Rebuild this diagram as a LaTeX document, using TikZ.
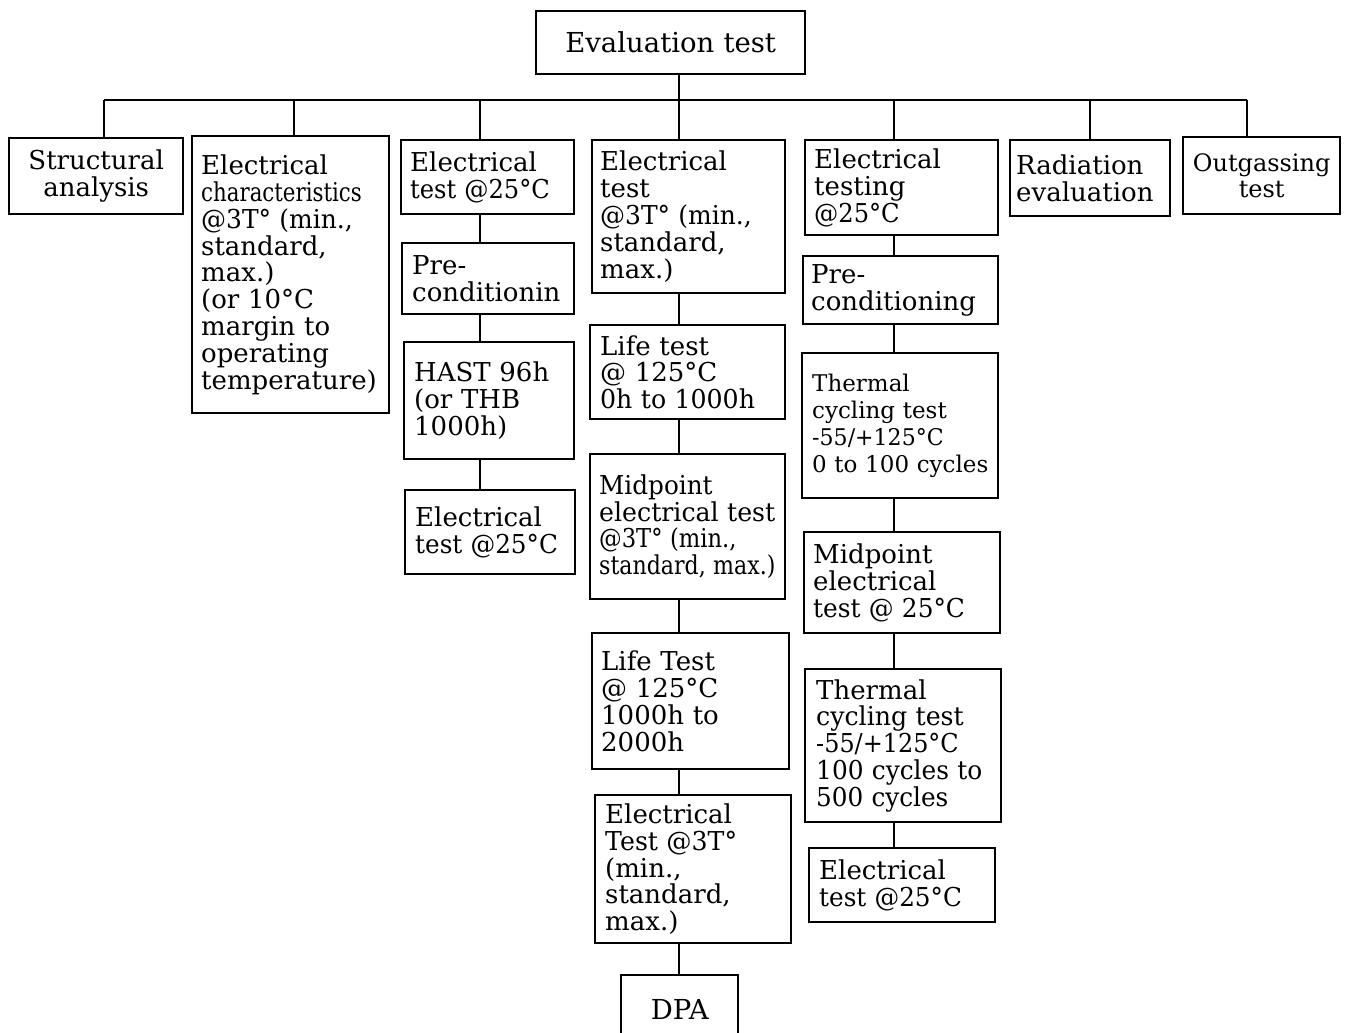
\documentclass[tikz,border=0pt]{standalone}
\usepackage{fontspec}
\setmainfont{DejaVu Serif}
\usepackage{graphicx}
\newcommand\boxfont{\fontsize{26}{26.8}\selectfont\hyphenpenalty=10000\relax}
\newcommand\smallboxfont{\fontsize{23}{26.8}\selectfont\hyphenpenalty=10000\relax}
\newcommand\labelfont{\fontsize{24}{26.8}\selectfont\hyphenpenalty=10000\relax}
\newcommand\bigboxfont{\fontsize{27.5}{28}\selectfont}
\newcommand\squeeze[2]{\scalebox{#1}[1]{#2}}
\begin{document}
\begin{tikzpicture}[x=1pt,y=-1pt,
  box/.style={draw, line width=2.4pt, rectangle, anchor=north west,
    inner ysep=0pt, align=left, font=\boxfont},
  link/.style={line width=2.4pt}]
\useasboundingbox (0,0) rectangle (1347,1033);

% top node
\node[box, align=center, font=\bigboxfont, minimum width=269pt, minimum height=63pt,
  text width=251pt, inner xsep=9pt] (eval) at (535,10) {Evaluation test};

% first level
\node[box, align=center, minimum width=174pt, minimum height=76pt,
  text width=156pt, inner xsep=9pt] (sa) at (8,137) {Structural\\analysis};
\node[box, minimum width=197pt, minimum height=277pt,
  text width=179pt, inner xsep=9pt] (ec) at (191,135)
  {Electrical\\\squeeze{0.82}{characteristics}\\\squeeze{0.96}{@3T°~(min.,}\\standard,\\max.)\\(or~10°C\\margin~to\\operating\\temperature)};

% column: electrical test @25C / HAST
\node[box, minimum width=173pt, minimum height=74pt,
  text width=155pt, inner xsep=9pt] (c3a) at (400,139)
  {Electrical\\\squeeze{0.93}{test~@25°C}};
\node[box, minimum width=172pt, minimum height=71pt,
  text width=152pt, inner xsep=10pt] (c3b) at (401,242) {Pre-\\conditionin};
\node[box, minimum width=170pt, minimum height=117pt,
  text width=150pt, inner xsep=10pt] (c3c) at (403,341) {HAST~96h\\(or~THB\\1000h)};
\node[box, minimum width=170pt, minimum height=84pt,
  text width=150pt, inner xsep=10pt] (c3d) at (404,489)
  {Electrical\\\squeeze{0.95}{test~@25°C}};

% column: life test
\node[box, minimum width=193pt, minimum height=153pt,
  text width=177pt, inner xsep=8pt] (c4a) at (591,139)
  {Electrical\\test\\\squeeze{0.96}{@3T°~(min.,}\\standard,\\max.)};
\node[box, minimum width=195pt, minimum height=94pt,
  text width=175pt, inner xsep=10pt] (c4b) at (589,324)
  {Life~test\\@~125°C\\\squeeze{0.97}{0h~to~1000h}};
\node[box, minimum width=195pt, minimum height=145pt,
  text width=177pt, inner xsep=9pt] (c4c) at (589,453)
  {\squeeze{0.95}{Midpoint}\\\squeeze{0.97}{electrical~test}\\\squeeze{0.87}{@3T°~(min.,}\\\squeeze{0.85}{standard,~max.)}};
\node[box, minimum width=197pt, minimum height=136pt,
  text width=179pt, inner xsep=9pt] (c4d) at (591,632)
  {Life~Test\\@~125°C\\1000h~to\\2000h};
\node[box, minimum width=196pt, minimum height=148pt,
  text width=176pt, inner xsep=10pt] (c4e) at (594,794)
  {Electrical\\\squeeze{0.97}{Test~@3T°}\\(min.,\\standard,\\max.)};
\node[box, align=center, font=\bigboxfont, minimum width=117pt, minimum height=68pt,
  text width=99pt, inner xsep=9pt] (dpa) at (620,974) {DPA};

% column: thermal cycling
\node[box, minimum width=193pt, minimum height=95pt,
  text width=175pt, inner xsep=9pt] (c5a) at (804,139)
  {Electrical\\testing\\\squeeze{0.93}{@25°C}};
\node[box, minimum width=195pt, minimum height=68pt,
  text width=179pt, inner xsep=8pt] (c5b) at (802,255) {Pre-\\conditioning};
\node[box, font=\smallboxfont, minimum width=196pt, minimum height=145pt,
  text width=176pt, inner xsep=10pt] (c5c) at (801,352)
  {Thermal\\cycling~test\\\squeeze{0.96}{-55/+125°C}\\0~to~100~cycles};
\node[box, minimum width=196pt, minimum height=101pt,
  text width=178pt, inner xsep=9pt] (c5d) at (803,531)
  {Midpoint\\electrical\\\squeeze{0.955}{test~@~25°C}};
\node[box, minimum width=196pt, minimum height=153pt,
  text width=174pt, inner xsep=11pt] (c5e) at (804,668)
  {Thermal\\\squeeze{0.97}{cycling~test}\\\squeeze{0.92}{-55/+125°C}\\\squeeze{0.955}{100~cycles~to}\\\squeeze{0.95}{500~cycles}};
\node[box, minimum width=186pt, minimum height=74pt,
  text width=166pt, inner xsep=10pt] (c5f) at (808,847)
  {Electrical\\\squeeze{0.95}{test~@25°C}};

% remaining first-level nodes
\node[box, minimum width=160pt, minimum height=76pt,
  text width=148pt, inner xsep=6pt] (rad) at (1009,139) {Radiation\\evaluation};
\node[box, align=center, font=\labelfont, minimum width=157pt, minimum height=77pt,
  text width=141pt, inner xsep=8pt] (og) at (1182,136) {Outgassing\\test};

% bus and drop points
\coordinate (k1) at (104,100);
\coordinate (k2) at (294,100);
\coordinate (k3) at (480,100);
\coordinate (k4) at (679,100);
\coordinate (k5) at (894,100);
\coordinate (k6) at (1090,100);
\coordinate (k7) at (1247,100);

\draw[link] (k1) -- (k7);
\draw[link] (k4 |- eval.south) -- (k4);
\draw[link] (k1) -- (k1 |- sa.north);
\draw[link] (k2) -- (k2 |- ec.north);
\draw[link] (k3) -- (k3 |- c3a.north);
\draw[link] (k4) -- (k4 |- c4a.north);
\draw[link] (k5) -- (k5 |- c5a.north);
\draw[link] (k6) -- (k6 |- rad.north);
\draw[link] (k7) -- (k7 |- og.north);

% vertical chains
\draw[link] (k3 |- c3a.south) -- (k3 |- c3b.north);
\draw[link] (k3 |- c3b.south) -- (k3 |- c3c.north);
\draw[link] (k3 |- c3c.south) -- (k3 |- c3d.north);

\draw[link] (k4 |- c4a.south) -- (k4 |- c4b.north);
\draw[link] (k4 |- c4b.south) -- (k4 |- c4c.north);
\draw[link] (k4 |- c4c.south) -- (k4 |- c4d.north);
\draw[link] (k4 |- c4d.south) -- (k4 |- c4e.north);
\draw[link] (k4 |- c4e.south) -- (k4 |- dpa.north);

\draw[link] (k5 |- c5a.south) -- (k5 |- c5b.north);
\draw[link] (k5 |- c5b.south) -- (k5 |- c5c.north);
\draw[link] (k5 |- c5c.south) -- (k5 |- c5d.north);
\draw[link] (k5 |- c5d.south) -- (k5 |- c5e.north);
\draw[link] (k5 |- c5e.south) -- (k5 |- c5f.north);
\end{tikzpicture}
\end{document}
